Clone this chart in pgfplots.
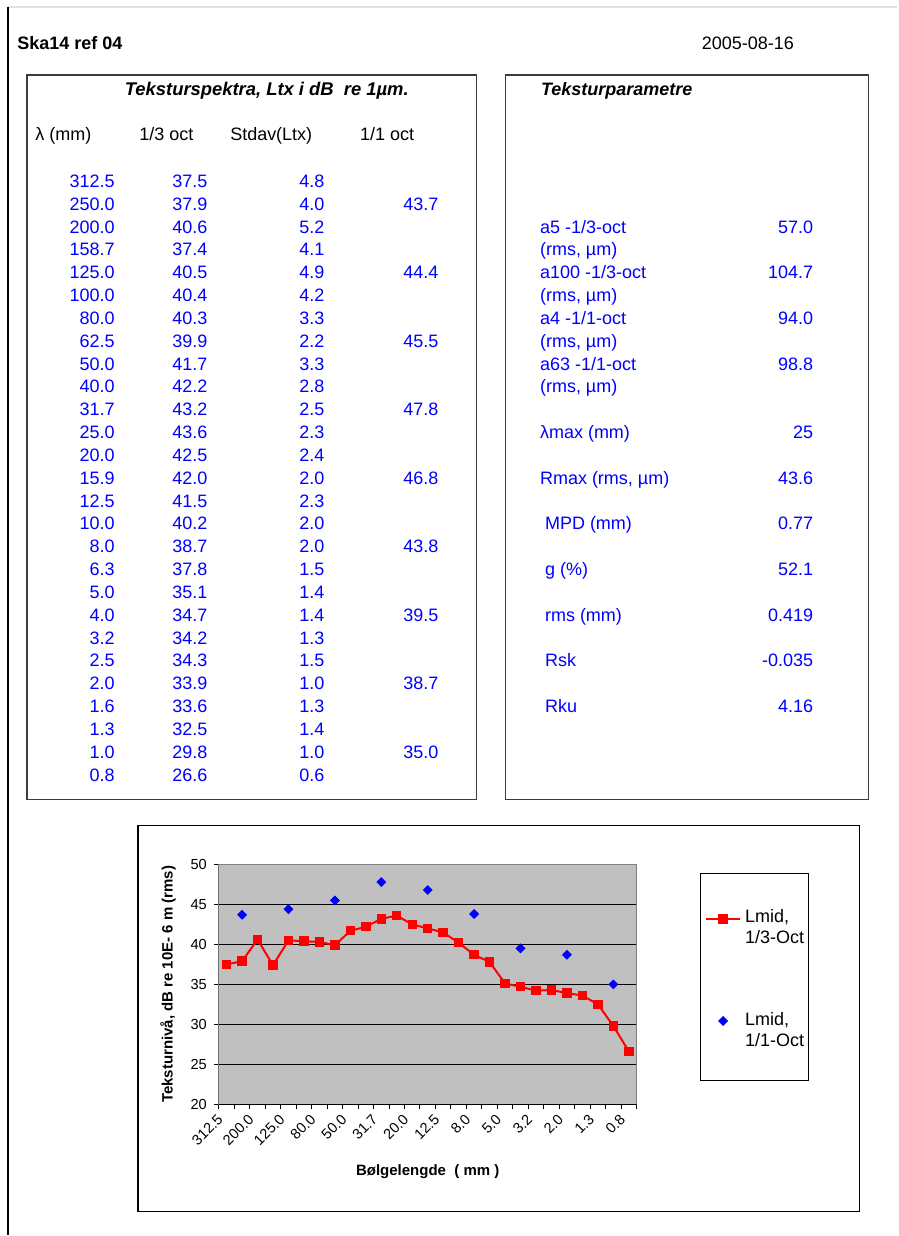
\documentclass[border=0pt]{standalone}
\usepackage{pgfplots}
\pgfplotsset{compat=1.18}
\usepackage{fontspec}
\setmainfont{Liberation Sans}
\definecolor{tblue}{RGB}{0,0,255}
\definecolor{plotgray}{RGB}{192,192,192}
\definecolor{boxgray}{RGB}{60,60,60}
\newcommand\tf{\fontsize{9}{11}\selectfont}

\begin{document}
\begin{tikzpicture}
% page: 898 x 1236 px, 1 px = 0.5 pt
\fill[white] (0,0) rectangle (449pt,618pt);
\begin{scope}[x=0.5pt,y=-0.5pt,yshift=618pt,every node/.style={inner sep=0pt,font=\tf}]
  \draw[black!12, line width=0.6pt] (8,7) -- (898,7);
  \draw[black, line width=0.8pt] (8,7) -- (8,1236);
  \node[anchor=base west,font=\tf\bfseries] at (17,49.5) {Ska14 ref 04};
  \node[anchor=base west] at (702,49.5) {2005-08-16};
  % boxes
  \draw[boxgray, line width=0.7pt] (27,75) rectangle (477,800);
  \draw[boxgray, line width=0.7pt] (506,75) rectangle (869,800);
  \draw[black, line width=0.6pt] (138,826) rectangle (860,1212);
  \draw[black, line width=0.5pt] (701,874) rectangle (809,1081);
  % left table
  \node[anchor=base,font=\fontsize{9.2}{11}\selectfont\bfseries\itshape] at (267,95.5) {Teksturspektra, Ltx i dB\ \ re 1µm.};
  \node[anchor=base west] at (35,140.5) {λ (mm)};
  \node[anchor=base west] at (139,140.5) {1/3 oct};
  \node[anchor=base west] at (230,140.5) {Stdav(Ltx)};
  \node[anchor=base west] at (360,140.5) {1/1 oct};
  \foreach \a/\b/\c/\d [count=\i from 0] in {
    312.5/37.5/4.8/{}, 250.0/37.9/4.0/43.7, 200.0/40.6/5.2/{}, 158.7/37.4/4.1/{},
    125.0/40.5/4.9/44.4, 100.0/40.4/4.2/{}, 80.0/40.3/3.3/{}, 62.5/39.9/2.2/45.5,
    50.0/41.7/3.3/{}, 40.0/42.2/2.8/{}, 31.7/43.2/2.5/47.8, 25.0/43.6/2.3/{},
    20.0/42.5/2.4/{}, 15.9/42.0/2.0/46.8, 12.5/41.5/2.3/{}, 10.0/40.2/2.0/{},
    8.0/38.7/2.0/43.8, 6.3/37.8/1.5/{}, 5.0/35.1/1.4/{}, 4.0/34.7/1.4/39.5,
    3.2/34.2/1.3/{}, 2.5/34.3/1.5/{}, 2.0/33.9/1.0/38.7, 1.6/33.6/1.3/{},
    1.3/32.5/1.4/{}, 1.0/29.8/1.0/35.0, 0.8/26.6/0.6/{}} {
    \pgfmathsetmacro\yy{187.5+22.85*\i}
    \node[anchor=base east,text=tblue] at (115,\yy) {\a};
    \node[anchor=base east,text=tblue] at (208,\yy) {\b};
    \node[anchor=base east,text=tblue] at (325,\yy) {\c};
    \node[anchor=base east,text=tblue] at (439,\yy) {\d};
  }
  % right table
  \node[anchor=base west,font=\tf\bfseries\itshape] at (541,95.5) {Teksturparametre};
  \begin{scope}[every node/.append style={text=tblue}]
    \node[anchor=base west] at (540,233.2) {a5 -1/3-oct};
    \node[anchor=base east] at (814,233.2) {57.0};
    \node[anchor=base west] at (540,256.0) {(rms, µm)};
    \node[anchor=base west] at (540,278.9) {a100 -1/3-oct};
    \node[anchor=base east] at (814,278.9) {104.7};
    \node[anchor=base west] at (540,301.7) {(rms, µm)};
    \node[anchor=base west] at (540,324.6) {a4 -1/1-oct};
    \node[anchor=base east] at (814,324.6) {94.0};
    \node[anchor=base west] at (540,347.4) {(rms, µm)};
    \node[anchor=base west] at (540,370.3) {a63 -1/1-oct};
    \node[anchor=base east] at (814,370.3) {98.8};
    \node[anchor=base west] at (540,393.1) {(rms, µm)};
    \node[anchor=base west] at (540,438.8) {λmax (mm)};
    \node[anchor=base east] at (814,438.8) {25};
    \node[anchor=base west] at (540,484.5) {Rmax (rms, µm)};
    \node[anchor=base east] at (814,484.5) {43.6};
    \node[anchor=base west] at (545,530.2) {MPD (mm)};
    \node[anchor=base east] at (814,530.2) {0.77};
    \node[anchor=base west] at (545,575.9) {g (\%)};
    \node[anchor=base east] at (814,575.9) {52.1};
    \node[anchor=base west] at (545,621.6) {rms (mm)};
    \node[anchor=base east] at (814,621.6) {0.419};
    \node[anchor=base west] at (545,667.3) {Rsk};
    \node[anchor=base east] at (814,667.3) {-0.035};
    \node[anchor=base west] at (545,713.0) {Rku};
    \node[anchor=base east] at (814,713.0) {4.16};
  \end{scope}
\end{scope}

\begin{axis}[
  at={(109.5pt,65.5pt)}, anchor=south west,
  scale only axis, width=209pt, height=120pt,
  xmin=-0.5, xmax=26.5, ymin=20, ymax=50,
  ytick={20,25,...,50},
  xtick={0,2,...,26},
  xticklabels={312.5,200.0,125.0,80.0,50.0,31.7,20.0,12.5,8.0,5.0,3.2,2.0,1.3,0.8},
  minor xtick={-0.5,0.5,...,26.5},
  major x tick style={draw=none},
  xtick pos=bottom, ytick pos=left,
  tick align=outside,
  major tick length=2.5pt, minor tick length=2.5pt,
  tick style={black, line width=0.5pt},
  axis background/.style={fill=plotgray},
  axis line style={black!50, line width=0.6pt},
  ymajorgrids, major grid style={black, line width=0.45pt},
  tick label style={font=\fontsize{7.3}{8}\selectfont},
  /pgf/number format/assume math mode=true,
  xticklabel style={rotate=45, anchor=east, xshift=-1.5pt, yshift=-0.5pt},
  xlabel={Bølgelengde\ \ ( mm )},
  ylabel={Teksturnivå, dB re 10E- 6 m (rms)},
  every axis x label/.style={at={(axis description cs:0.5,-0.279)},anchor=center,
    font=\fontsize{7.5}{9}\selectfont\bfseries},
  every axis y label/.style={at={(axis description cs:-0.122,0.5)},rotate=90,anchor=center,
    font=\fontsize{7.5}{9}\selectfont\bfseries},
  legend style={at={(axis description cs:1.163,0.829)}, anchor=north west,
    draw=none, fill=none, font=\fontsize{9}{10.5}\selectfont,
    cells={align=left, anchor=west}, row sep=29pt, inner sep=0pt},
]
\draw[black, line width=0.6pt] (rel axis cs:0,1) -- (rel axis cs:0,0) -- (rel axis cs:1,0);
\addplot[red, line width=1pt, mark=square*, mark size=1.85pt, mark options={solid, fill=red},
  legend image code/.code={
    \draw[mark repeat=2,mark phase=2] plot coordinates {(0cm,4.6pt)(0.3cm,4.6pt)(0.6cm,4.6pt)};}]
  coordinates {
    (0,37.5)(1,37.9)(2,40.6)(3,37.4)(4,40.5)(5,40.4)(6,40.3)(7,39.9)(8,41.7)
    (9,42.2)(10,43.2)(11,43.6)(12,42.5)(13,42.0)(14,41.5)(15,40.2)(16,38.7)
    (17,37.8)(18,35.1)(19,34.7)(20,34.2)(21,34.3)(22,33.9)(23,33.6)(24,32.5)
    (25,29.8)(26,26.6)
  };
\addlegendentry{Lmid,\\1/3-Oct}
\addplot[only marks, blue, mark=square*, mark size=1.55pt, mark options={rotate=45, fill=blue},
  legend image code/.code={
    \draw plot coordinates {(0.3cm,5.2pt)};
    \path (0cm,5.2pt) (0.6cm,5.2pt);}]
  coordinates {
    (1,43.7)(4,44.4)(7,45.5)(10,47.8)(13,46.8)(16,43.8)(19,39.5)(22,38.7)(25,35.0)
  };
\addlegendentry{Lmid,\\1/1-Oct}
\end{axis}
\end{tikzpicture}
\end{document}
